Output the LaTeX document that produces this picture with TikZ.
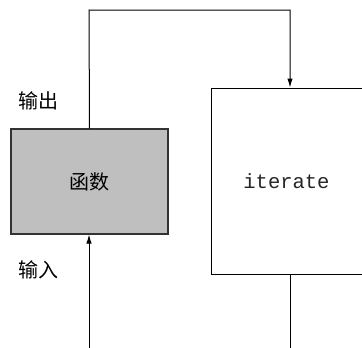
\documentclass[tikz,border=0pt]{standalone}
\usepackage{fontspec}
\newfontfamily\cjk{Noto Sans CJK SC}
\setmonofont{Liberation Mono}
\usetikzlibrary{arrows.meta}
\tikzset{
  conn/.style={draw=black, line width=1pt},
  tip/.style={-{Latex[length=9pt,width=5.5pt]}},
  fbox/.style={draw=black!80, line width=1.1pt, fill=black!25, minimum width=157pt, minimum height=105pt, inner sep=0pt, font=\cjk\fontsize{20}{22}\selectfont},
  ibox/.style={draw=black, line width=1pt, fill=white, minimum width=151pt, minimum height=186pt, inner sep=0pt, text=black!85, font=\ttfamily\fontsize{20.5}{22}\selectfont},
  lbl/.style={font=\cjk\fontsize{20}{22}\selectfont, inner sep=0pt}
}
\begin{document}
\begin{tikzpicture}[x=1pt,y=-1pt]
\useasboundingbox (0,0) rectangle (362,348);
\node[fbox] (f) at (89.5,181.5) {函数};
\node[ibox] (it) at (286.5,181) {iterate};
\node[lbl] (out) at (39,101) {输出};
\node[lbl] (in) at (39,270) {输入};
\coordinate (c1) at (89,10);
\coordinate (c2) at (290,10);
\coordinate (src) at (89,348);
\coordinate (snk) at (290,348);
\draw[conn,tip] (f.north) -- (c1) -- (c2) -- (c2 |- it.north);
\draw[conn,tip] (src) -- (f.south -| src);
\draw[conn] (it.south -| snk) -- (snk);
\end{tikzpicture}
\end{document}
